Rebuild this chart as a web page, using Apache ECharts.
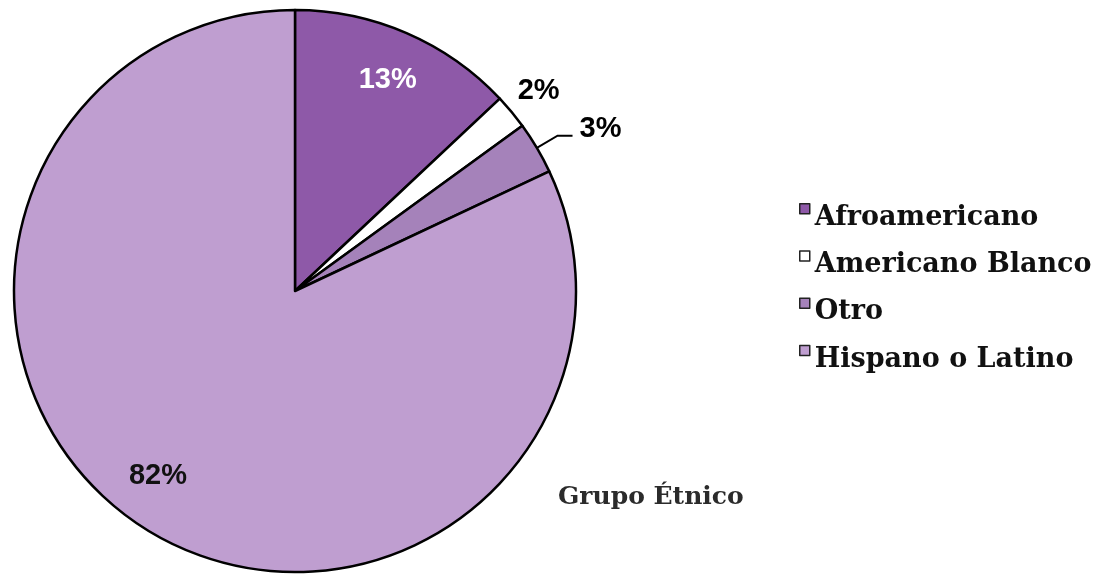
<!DOCTYPE html>
<html>
<head>
<meta charset="utf-8">
<script src="https://cdn.jsdelivr.net/npm/echarts@6/dist/echarts.min.js"></script>
<style>html,body{margin:0;padding:0;background:#fff;}#c{width:1103px;height:574px;}</style>
</head>
<body>
<div id="c"></div>
<script>
var categories = ['Afroamericano', 'Americano Blanco', 'Otro', 'Hispano o Latino'];
var values = [13, 2, 3, 82];
var colors = ['#8E59A8', '#FFFFFF', '#A582BA', '#BF9ED0'];
var titleText = 'Grupo Étnico';

var chart = echarts.init(document.getElementById('c'));
var center = [295, 291];
var R = 281;

var mainData = categories.map(function (n, i) {
  return { name: n, value: values[i], itemStyle: { color: colors[i] } };
});
// shift > 0 raises text, < 0 lowers it (via an empty spacer line)
var labelCfg = [
  { position: 'inside', color: '#fff', shift: -3, padR: 0 },
  { position: 'outside', color: '#000', lineShow: false, len: 8, len2: 0, dist: 0, shift: 16, padR: 0 },
  { position: 'outside', color: '#000', lineShow: true, len: 24, len2: 15, dist: 7, shift: 7, padR: 0 },
  { position: 'inside', color: '#111', shift: 12, padR: 24 }
];
function makeFormatter(shift) {
  if (shift > 0) return '{v|{c}%}\n{s| }';
  if (shift < 0) return '{s| }\n{v|{c}%}';
  return '{v|{c}%}';
}
var labelData = categories.map(function (n, i) {
  var c = labelCfg[i];
  var d = {
    name: n, value: values[i],
    label: {
      position: c.position,
      formatter: makeFormatter(c.shift),
      padding: [0, c.padR, 0, 0],
      rich: {
        v: { fontFamily: 'Liberation Sans', fontWeight: 'bold', fontSize: 29, color: c.color, lineHeight: 32 },
        s: { fontSize: 1, lineHeight: Math.abs(c.shift) * 2 }
      }
    }
  };
  if (c.position === 'outside') {
    d.label.distanceToLabelLine = c.dist;
    d.labelLine = { show: c.lineShow, length: c.len, length2: c.len2, lineStyle: { color: '#000', width: 2 } };
  }
  return d;
});

chart.setOption({
  animation: false,
  title: {
    text: titleText,
    left: 553, top: 480,
    textStyle: { fontFamily: 'DejaVu Serif', fontWeight: 'bold', fontSize: 25, color: '#2b2b2b' }
  },
  legend: {
    orient: 'vertical',
    left: 794, top: 198,
    itemWidth: 10, itemHeight: 10,
    itemGap: 19,
    icon: 'rect',
    selectedMode: false,
    data: categories,
    itemStyle: { borderColor: '#222', borderWidth: 1.5 },
    formatter: '{t|{name}}',
    textStyle: {
      rich: {
        t: { fontFamily: 'DejaVu Serif', fontWeight: 'bold', fontSize: 27, color: '#111', padding: [18, 0, 0, 0] }
      }
    }
  },
  series: [
    {
      type: 'pie',
      center: center,
      radius: [0, R],
      startAngle: 90,
      clockwise: true,
      silent: true,
      label: { show: false },
      labelLine: { show: false },
      itemStyle: { borderColor: '#000', borderWidth: 2.5 },
      data: mainData
    },
    {
      type: 'pie',
      center: center,
      radius: [R * 0.64, R],
      startAngle: 90,
      clockwise: true,
      silent: true,
      avoidLabelOverlap: false,
      legendHoverLink: false,
      itemStyle: { color: 'rgba(0,0,0,0)', borderWidth: 0 },
      label: { show: true },
      data: labelData
    }
  ]
});
</script>
</body>
</html>
